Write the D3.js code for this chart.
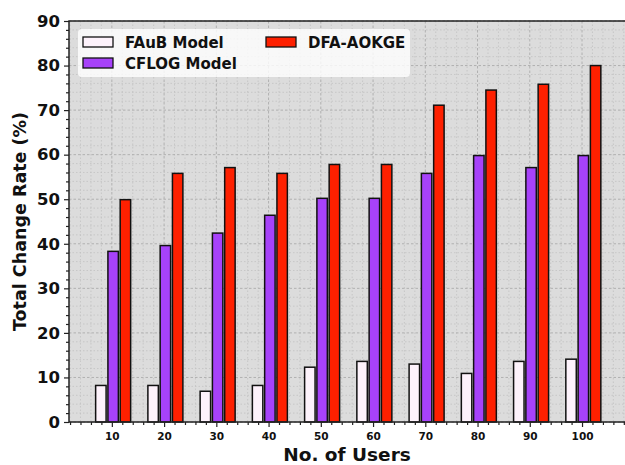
<!DOCTYPE html>
<html lang="en">
<head>
<meta charset="utf-8">
<title>Total Change Rate</title>
<script src="https://d3js.org/d3.v7.min.js"></script>
<style>
  body { margin: 0; background: #fff; }
  #chart { width: 625px; height: 465px; }
  text { font-family: "DejaVu Sans", sans-serif; font-weight: bold; fill: #111; }
</style>
</head>
<body>
<div id="chart"></div>
<script>
const users = [10, 20, 30, 40, 50, 60, 70, 80, 90, 100];
const faub  = [8.2, 8.2, 6.9, 8.2, 12.3, 13.6, 13.0, 10.9, 13.6, 14.1];
const cflog = [38.3, 39.6, 42.4, 46.4, 50.2, 50.2, 55.8, 59.8, 57.1, 59.8];
const dfa   = [49.9, 55.8, 57.1, 55.8, 57.8, 57.8, 71.1, 74.5, 75.8, 80.0];
const seriesNames = ["FAuB Model", "CFLOG Model", "DFA-AOKGE"];
const seriesColors = ["#fdf2fb", "#a742fa", "#fe2000"];
const yTicks = [0, 10, 20, 30, 40, 50, 60, 70, 80, 90];

const W = 625, H = 465;
const m = {left: 69, top: 21, right: -3, bottom: 43};
const pw = W - m.left - m.right, ph = H - m.top - m.bottom;

const svg = d3.select("#chart").append("svg")
  .attr("width", W).attr("height", H);

const x = d3.scaleLinear().domain([1.8, 108.8]).range([0, pw]);
const y = d3.scaleLinear().domain([0, 90]).range([ph, 0]);

const g = svg.append("g").attr("transform", `translate(${m.left},${m.top})`);

g.append("rect").attr("width", pw).attr("height", ph).attr("fill", "#dcdcdc");

// grid: minor then major
const xMinor = d3.range(2, 109, 2).filter(v => v % 10 !== 0);
const yMinor = d3.range(0, 91, 2).filter(v => v % 10 !== 0);
g.selectAll(".gxm").data(xMinor).join("line")
  .attr("x1", d => x(d)).attr("x2", d => x(d)).attr("y1", 0).attr("y2", ph)
  .attr("stroke", "#c2c2c2").attr("stroke-width", 0.8).attr("stroke-dasharray", "1.5,2");
g.selectAll(".gym").data(yMinor).join("line")
  .attr("y1", d => y(d)).attr("y2", d => y(d)).attr("x1", 0).attr("x2", pw)
  .attr("stroke", "#c2c2c2").attr("stroke-width", 0.8).attr("stroke-dasharray", "1.5,2");
g.selectAll(".gx").data(users).join("line")
  .attr("x1", d => x(d)).attr("x2", d => x(d)).attr("y1", 0).attr("y2", ph)
  .attr("stroke", "#b0b0b0").attr("stroke-width", 1).attr("stroke-dasharray", "2.5,2");
g.selectAll(".gy").data(yTicks).join("line")
  .attr("y1", d => y(d)).attr("y2", d => y(d)).attr("x1", 0).attr("x2", pw)
  .attr("stroke", "#b0b0b0").attr("stroke-width", 1).attr("stroke-dasharray", "2.5,2");

// bars
const barW = 2.0, step = 2.35, shift = 0.25;
[faub, cflog, dfa].forEach((vals, si) => {
  g.append("g").selectAll("rect").data(vals).join("rect")
    .attr("x", (d, i) => x(users[i] + shift + (si - 1) * step - barW / 2))
    .attr("width", x(barW) - x(0))
    .attr("y", d => y(d))
    .attr("height", d => y(0) - y(d))
    .attr("fill", seriesColors[si])
    .attr("stroke", "#111").attr("stroke-width", 1.5);
});

// axes
const xAxis = g.append("g").attr("transform", `translate(0,${ph})`)
  .call(d3.axisBottom(x).tickValues(users).tickSize(5).tickPadding(6).tickFormat(d3.format("d")));
const xAxisMinor = g.append("g").attr("transform", `translate(0,${ph})`)
  .call(d3.axisBottom(x).tickValues(xMinor).tickSize(3).tickFormat(""));
const yAxis = g.append("g")
  .call(d3.axisLeft(y).tickValues(yTicks).tickSize(5).tickPadding(4));
const yAxisMinor = g.append("g")
  .call(d3.axisLeft(y).tickValues(yMinor).tickSize(3).tickFormat(""));
[xAxis, xAxisMinor, yAxis, yAxisMinor].forEach(a => {
  a.select(".domain").remove();
  a.selectAll("line").attr("stroke", "#222").attr("stroke-width", 1.2);
});
xAxis.selectAll("text").style("font-size", "10.5px").style("font-family", "DejaVu Sans").style("font-weight", "bold");
yAxis.selectAll("text").style("font-size", "16.5px").style("font-family", "DejaVu Sans").style("font-weight", "bold");

// spines
g.append("rect").attr("width", pw).attr("height", ph)
  .attr("fill", "none").attr("stroke", "#222").attr("stroke-width", 1.5);

// titles
svg.append("text").attr("x", m.left + 278).attr("y", 461)
  .attr("text-anchor", "middle").style("font-size", "18.5px").text("No. of Users");
svg.append("text").attr("transform", `translate(26,${m.top + ph / 2}) rotate(-90)`)
  .attr("text-anchor", "middle").style("font-size", "17.5px").text("Total Change Rate (%)");

// legend
const lg = svg.append("g").attr("transform", "translate(78,29)");
lg.append("rect").attr("width", 332).attr("height", 48).attr("rx", 4)
  .attr("fill", "#fff").attr("fill-opacity", 0.8);
const legendPos = [[5, 8], [5, 29], [188, 8]];
seriesNames.forEach((name, i) => {
  const [lx, ly] = legendPos[i];
  lg.append("rect").attr("x", lx).attr("y", ly).attr("width", 30).attr("height", 10)
    .attr("fill", seriesColors[i]).attr("stroke", "#111").attr("stroke-width", 1.3);
  lg.append("text").attr("x", lx + 42).attr("y", ly + 11)
    .style("font-size", "15px").text(name);
});
</script>
</body>
</html>
